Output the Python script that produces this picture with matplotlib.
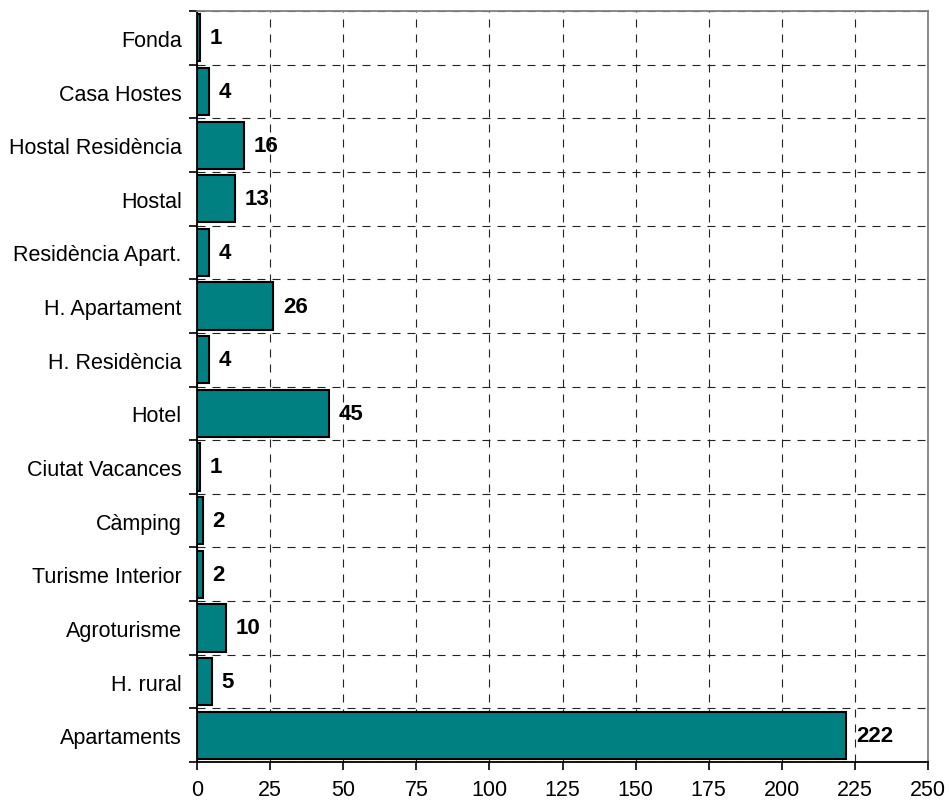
import numpy as np
import matplotlib
matplotlib.use("Agg")
import matplotlib.pyplot as plt
from matplotlib.ticker import FixedLocator

plt.rcParams['font.family'] = ['Liberation Sans', 'DejaVu Sans']

categories = ["Fonda", "Casa Hostes", "Hostal Residència", "Hostal",
              "Residència Apart.", "H. Apartament", "H. Residència", "Hotel",
              "Ciutat Vacances", "Càmping", "Turisme Interior", "Agroturisme",
              "H. rural", "Apartaments"]
values = [1, 4, 16, 13, 4, 26, 4, 45, 1, 2, 2, 10, 5, 222]
x_ticks = [0, 25, 50, 75, 100, 125, 150, 175, 200, 225, 250]

fig = plt.figure(figsize=(9.49, 8.03), dpi=100)
ax = fig.add_axes([0.2076, 0.0498, 0.7703, 0.9352])

y = np.arange(len(categories))
ax.barh(y, values, height=0.88, color="#008080", edgecolor="black", linewidth=1.5, zorder=3)

for yi, v in zip(y, values):
    ax.annotate(str(v), (v, yi), xytext=(7, 0), textcoords="offset points",
                ha="left", va="center", fontsize=16, fontweight="bold", zorder=4)

ax.set_xlim(0, 250)
ax.set_ylim(len(categories) - 0.5, -0.5)
ax.set_xticks(x_ticks)
ax.set_xticklabels([str(t) for t in x_ticks], fontsize=15.5)
ax.set_yticks(y)
ax.set_yticklabels(categories, fontsize=15.5)
ax.tick_params(axis="y", which="major", length=0, pad=11)
ax.yaxis.set_minor_locator(FixedLocator(np.arange(-0.5, len(categories), 1)))
ax.tick_params(axis="y", which="minor", length=6, width=1.2, direction="out")
ax.tick_params(axis="x", length=6, width=1.2, direction="out", pad=6)

dash = (0, (7.2, 6.3))
ax.grid(True, axis="x", which="major", linestyle=dash, color="#222222", linewidth=0.8, zorder=1)
ax.grid(True, axis="y", which="minor", linestyle=dash, color="#222222", linewidth=0.8, zorder=1)

for side in ["left", "bottom"]:
    ax.spines[side].set_color("black")
    ax.spines[side].set_linewidth(1.3)
for side in ["top", "right"]:
    ax.spines[side].set_color("#808080")
    ax.spines[side].set_linewidth(1.3)

fig.savefig("out.png", dpi=100)
